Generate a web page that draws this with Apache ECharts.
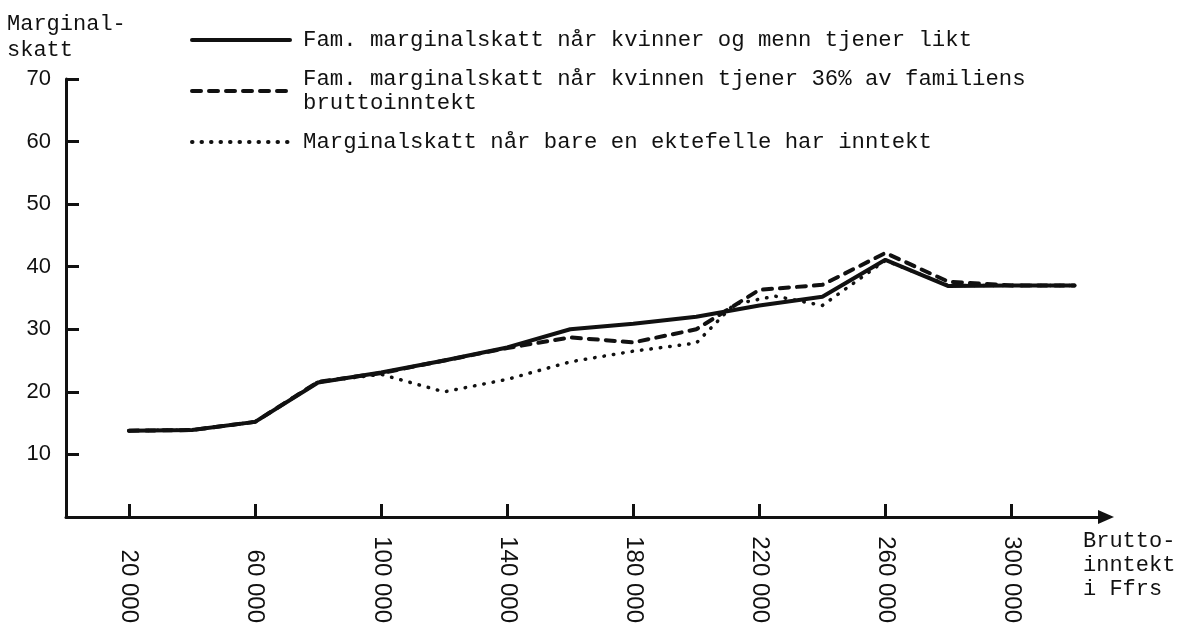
<!DOCTYPE html>
<html style="height: 100%">
   <head>
       <meta charset="utf-8">
   </head>
   <body style="height: 100%; margin: 0; background: #fff">
       <div id="container" style="height: 100%"></div>
       <script type="text/javascript" src="https://cdn.jsdelivr.net/npm/echarts@6/dist/echarts.min.js"></script>
       <script type="text/javascript">
// bruttoinntekt (Ffrs) og marginalskatt (%)
var incomes = [20000, 40000, 60000, 80000, 100000, 120000, 140000, 160000, 180000, 200000, 220000, 240000, 260000, 280000, 300000, 320000];
var likt = [13.8, 13.9, 15.2, 21.5, 23.1, 25.0, 27.1, 30.0, 30.9, 32.0, 33.8, 35.2, 41.1, 36.9, 37.0, 37.0];
var andel36 = [13.8, 13.9, 15.2, 21.6, 23.0, 25.0, 27.0, 28.7, 27.9, 30.0, 36.3, 37.1, 42.2, 37.6, 37.0, 37.0];
var enInntektX = [20000, 40000, 60000, 80000, 100000, 120000, 140000, 160000, 180000, 200000, 212000, 225000, 240000, 260000, 280000, 300000, 320000];
var enInntekt = [13.8, 13.9, 15.2, 21.6, 22.8, 20.0, 22.0, 24.8, 26.5, 27.8, 34.0, 35.3, 33.8, 41.0, 37.0, 37.0, 37.0];
var xTicks = [20000, 60000, 100000, 140000, 180000, 220000, 260000, 300000];
var yTicks = [10, 20, 30, 40, 50, 60, 70];

var names = [
    'Fam. marginalskatt når kvinner og menn tjener likt',
    'Fam. marginalskatt når kvinnen tjener 36% av familiens\nbruttoinntekt',
    'Marginalskatt når bare en ektefelle har inntekt'
];

function pairs(xs, ys) {
    return xs.map(function (x, i) { return [x, ys[i]]; });
}

var ink = '#111';
var mono = '"Liberation Mono", "Courier New", monospace';
var sans = '"Liberation Sans", Arial, sans-serif';

var dom = document.getElementById("container");
var myChart = echarts.init(dom);
var option = {
    animation: false,
    backgroundColor: '#fff',
    color: [ink, ink, ink],
    title: [
        {
            text: 'Marginal-\nskatt',
            left: 2, top: 6,
            textStyle: {fontFamily: mono, fontSize: 22, lineHeight: 26, fontWeight: 'normal', color: ink}
        },
        {
            text: 'Brutto-\ninntekt\ni Ffrs',
            left: 1078, top: 524,
            textStyle: {fontFamily: mono, fontSize: 22, lineHeight: 24, fontWeight: 'normal', color: ink}
        }
    ],
    legend: {
        orient: 'vertical',
        left: 185, top: 23,
        itemWidth: 98,
        itemHeight: 14,
        itemGap: 15,
        selectedMode: false,
        data: names,
        itemStyle: {opacity: 0},
        lineStyle: {width: 4},
        textStyle: {fontFamily: mono, fontSize: 22.3, lineHeight: 24, color: ink, padding: [0, 0, 0, 8]}
    },
    grid: {
        left: 66,
        right: 77,
        top: 79,
        bottom: 112
    },
    xAxis: {
        type: 'value',
        min: 0,
        max: 330000,
        splitLine: {show: false},
        axisLine: {
            lineStyle: {color: ink, width: 3},
            symbol: ['none', 'triangle'],
            symbolSize: [14, 16]
        },
        axisTick: {
            inside: true,
            length: 13,
            lineStyle: {color: ink, width: 3},
            customValues: xTicks
        },
        axisLabel: {
            customValues: xTicks,
            rotate: -90,
            margin: 106,
            align: 'right',
            verticalAlign: 'middle',
            fontFamily: sans,
            fontSize: 24,
            color: ink,
            formatter: function (v) { return (v / 1000) + ' 000'; }
        }
    },
    yAxis: {
        type: 'value',
        min: 0,
        max: 70,
        interval: 10,
        splitLine: {show: false},
        axisLine: {show: true, lineStyle: {color: ink, width: 3}},
        axisTick: {
            show: true,
            inside: true,
            length: 13,
            lineStyle: {color: ink, width: 3},
            customValues: yTicks
        },
        axisLabel: {
            customValues: yTicks,
            margin: 15,
            fontFamily: sans,
            fontSize: 22,
            color: ink
        }
    },
    series: [
        {
            name: names[2],
            type: 'line',
            data: pairs(enInntektX, enInntekt),
            symbol: 'none',
            lineStyle: {color: ink, width: 3.5, type: [0.5, 9], cap: 'round'},
            z: 2
        },
        {
            name: names[1],
            type: 'line',
            data: pairs(incomes, andel36),
            symbol: 'none',
            lineStyle: {color: ink, width: 4, type: [9, 8], cap: 'round'},
            z: 3
        },
        {
            name: names[0],
            type: 'line',
            data: pairs(incomes, likt),
            symbol: 'none',
            lineStyle: {color: ink, width: 4, cap: 'round'},
            z: 4
        }
    ]
};
myChart.setOption(option, true);
       </script>
   </body>
</html>
